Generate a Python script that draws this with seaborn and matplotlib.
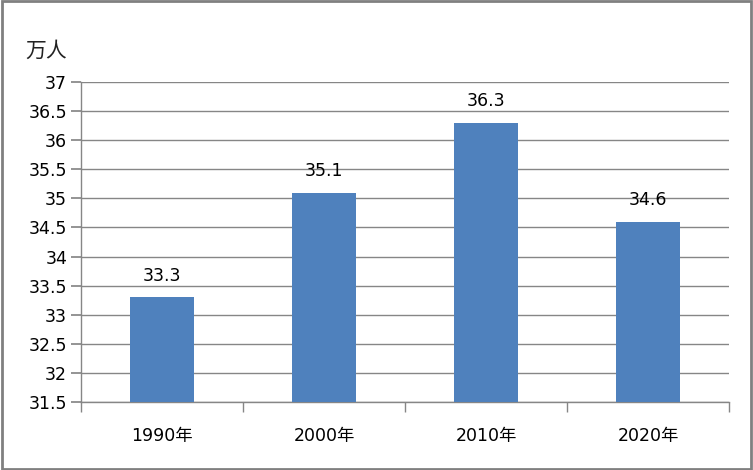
import matplotlib
matplotlib.use("Agg")
import matplotlib.pyplot as plt
import seaborn as sns
import pandas as pd
from matplotlib.patches import Rectangle

categories = ["1990年", "2000年", "2010年", "2020年"]
values = [33.3, 35.1, 36.3, 34.6]
yticks = [31.5, 32, 32.5, 33, 33.5, 34, 34.5, 35, 35.5, 36, 36.5, 37]
unit_label = "万人"

sns.set_theme(style="white")
plt.rcParams['font.family'] = ['DejaVu Sans', 'Noto Sans CJK SC']

df = pd.DataFrame({"year": categories, "value": values})

fig = plt.figure(figsize=(7.53, 4.70), dpi=100)
ax = fig.add_axes([81/753, 68/470, (729-81)/753, (402-82)/470])

sns.barplot(data=df, x="year", y="value", color="#4F81BD", saturation=1,
            width=0.4, ax=ax, zorder=3, edgecolor="none", linewidth=0)

ax.set_ylim(31.5, 37)
ax.set_xlim(-0.5, len(categories) - 0.5)
ax.set_yticks(yticks)
ax.set_yticklabels([f"{t:g}" for t in yticks])
ax.yaxis.grid(True, color="#868686", linewidth=1)
ax.set_axisbelow(True)

for s in ["top", "right"]:
    ax.spines[s].set_visible(False)
for s in ["left", "bottom"]:
    ax.spines[s].set_color("#868686")
    ax.spines[s].set_linewidth(1)

fs = 12.5
ax.set_xticks(range(len(categories)))
ax.set_xticklabels(categories, family=['DejaVu Sans', 'Noto Sans CJK SC'])
ax.tick_params(axis="x", length=0, pad=18, labelsize=fs, colors="black")
ax.set_xticks([i - 0.5 for i in range(len(categories) + 1)], minor=True)
ax.tick_params(axis="x", which="minor", length=7, color="#868686", direction="out", bottom=True)
ax.tick_params(axis="y", length=7, color="#868686", direction="out", left=True,
               labelsize=fs, colors="black", pad=3)
ax.tick_params(axis="y", labelcolor="black")
ax.set_xlabel("")
ax.set_ylabel("")

for i, v in enumerate(values):
    ax.annotate(f"{v:g}", (i, v), xytext=(0, 9), textcoords="offset points",
                ha="center", va="bottom", fontsize=fs, color="black")

fig.text(25/753, 1 - 51/470, unit_label, ha="left", va="center", fontsize=15,
         family=['Noto Sans CJK SC', 'DejaVu Sans'], color="#222222")

fig.patches.append(Rectangle((0.002, 0.003), 0.995, 0.994, transform=fig.transFigure,
                             fill=False, edgecolor="#808080", linewidth=2))

fig.savefig("out.png", dpi=100, facecolor="white")
